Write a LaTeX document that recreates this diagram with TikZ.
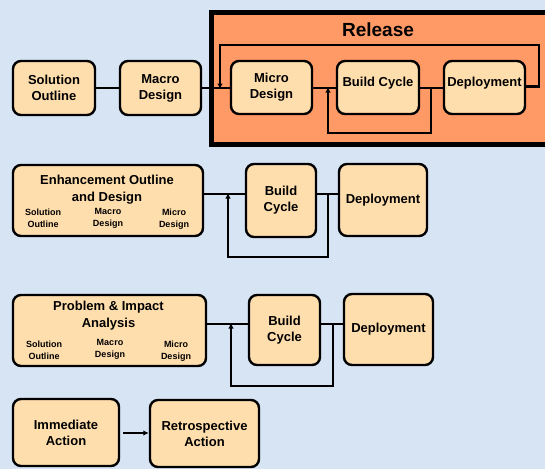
\documentclass[tikz,border=0pt]{standalone}
\usepackage{fontspec}
\setmainfont{Liberation Sans}
\usetikzlibrary{arrows.meta}
\definecolor{bgblue}{HTML}{D6E4F4}
\definecolor{peach}{HTML}{FFDEAD}
\definecolor{relorange}{HTML}{FF9966}
\tikzset{
  box/.style={draw=black, line width=2.4pt, fill=peach, rounded corners=8pt,
    inner sep=0pt, align=center, font=\fontsize{13}{16}\selectfont\bfseries},
  lbl/.style={inner sep=0pt, align=center, font=\fontsize{13}{17}\selectfont\bfseries},
  sublbl/.style={inner sep=0pt, align=center, font=\fontsize{9}{12}\selectfont\bfseries},
  conn/.style={draw=black, line width=2.2pt},
  arr/.style={conn, -{Latex[length=5.5pt,width=5.5pt]}},
}
\begin{document}
\begin{tikzpicture}[x=1pt,y=-1pt]
\useasboundingbox (0,0) rectangle (545,469);
\clip (0,0) rectangle (545,469);
\fill[bgblue] (0,0) rectangle (545,469);

% Release frame
\fill[relorange] (211.5,12.5) rectangle (560,144.5);
\draw[line width=5pt] (560,12.5) -- (211.5,12.5) -- (211.5,144.5) -- (560,144.5);
\node[inner sep=0pt, font=\fontsize{19}{22}\selectfont\bfseries] (rel) at (378,30) {Release};

% Row 1
\node[box, minimum width=82pt, minimum height=54pt] (so) at (54,88) {Solution\\Outline};
\node[box, minimum width=81pt, minimum height=54pt] (md) at (160.5,88) {Macro\\Design};
\node[box, minimum width=81pt, minimum height=53pt] (mi) at (271.5,87.5) {Micro\\Design};
\node[box, minimum width=82pt, minimum height=53pt] (bc) at (378,87.5) {Build Cycle\\[-5pt]\mbox{}};
\node[box, minimum width=81pt, minimum height=53pt] (dp) at (484.5,87.5) {Deployment\\[-5pt]\mbox{}};

\coordinate (j1) at (220,88);
\coordinate (k1) at (431,88);
\coordinate (l1) at (328,88);
\draw[conn] (so.east |- j1) -- (md.west |- j1);
\draw[conn] (md.east |- j1) -- (mi.west |- j1);
\draw[conn] (mi.east |- j1) -- (bc.west |- j1);
\draw[conn] (bc.east |- j1) -- (dp.west |- j1);
\draw[arr] (dp.east |- 0,86.5) -- (539,86.5) -- (539,45) -- (220,45) -- ([yshift=-1pt]j1);
\draw[arr] (k1) -- (431,133) -- (328,133) -- ([yshift=1pt]l1);

% Row 2
\node[box, minimum width=190pt, minimum height=71pt] (en) at (108,200.5) {};
\node[lbl] (ent) at (107,190) {Enhancement Outline\\and Design};
\node[sublbl] (en1) at (43,218.5) {Solution\\Outline};
\node[sublbl] (en2) at (108,218) {Macro\\Design};
\node[sublbl] (en3) at (174,219) {Micro\\Design};
\node[box, minimum width=70pt, minimum height=73pt] (bc2) at (281,200.5) {Build\\Cycle};
\node[box, minimum width=88pt, minimum height=72pt] (dp2) at (383,200) {Deployment};

\coordinate (j2) at (228,194);
\coordinate (k2) at (328,194);
\draw[conn] (en.east |- j2) -- (bc2.west |- j2);
\draw[conn] (bc2.east |- j2) -- (dp2.west |- j2);
\draw[arr] (k2) -- (328,257) -- (228,257) -- ([yshift=1pt]j2);

% Row 3
\node[box, minimum width=193pt, minimum height=71pt] (pr) at (109.5,330.5) {};
\node[lbl] (prt) at (108.5,316) {Problem \& Impact\\Analysis};
\node[sublbl] (pr1) at (44,350) {Solution\\Outline};
\node[sublbl] (pr2) at (110,349) {Macro\\Design};
\node[sublbl] (pr3) at (176,351) {Micro\\Design};
\node[box, minimum width=71pt, minimum height=70pt] (bc3) at (284.5,330) {Build\\Cycle};
\node[box, minimum width=89pt, minimum height=71pt] (dp3) at (388.5,329.5) {Deployment};

\coordinate (j3) at (231,324);
\coordinate (k3) at (333,324);
\draw[conn] (pr.east |- j3) -- (bc3.west |- j3);
\draw[conn] (bc3.east |- j3) -- (dp3.west |- j3);
\draw[arr] (k3) -- (333,386) -- (231,386) -- ([yshift=1pt]j3);

% Row 4
\node[box, minimum width=106pt, minimum height=67pt] (im) at (66,432.5) {Immediate\\Action};
\node[box, minimum width=109pt, minimum height=67pt] (re) at (204.5,433.5) {Retrospective\\Action};
\draw[arr] ([xshift=3pt]im.east |- 0,433) -- (re.west |- 0,433);
\end{tikzpicture}
\end{document}
